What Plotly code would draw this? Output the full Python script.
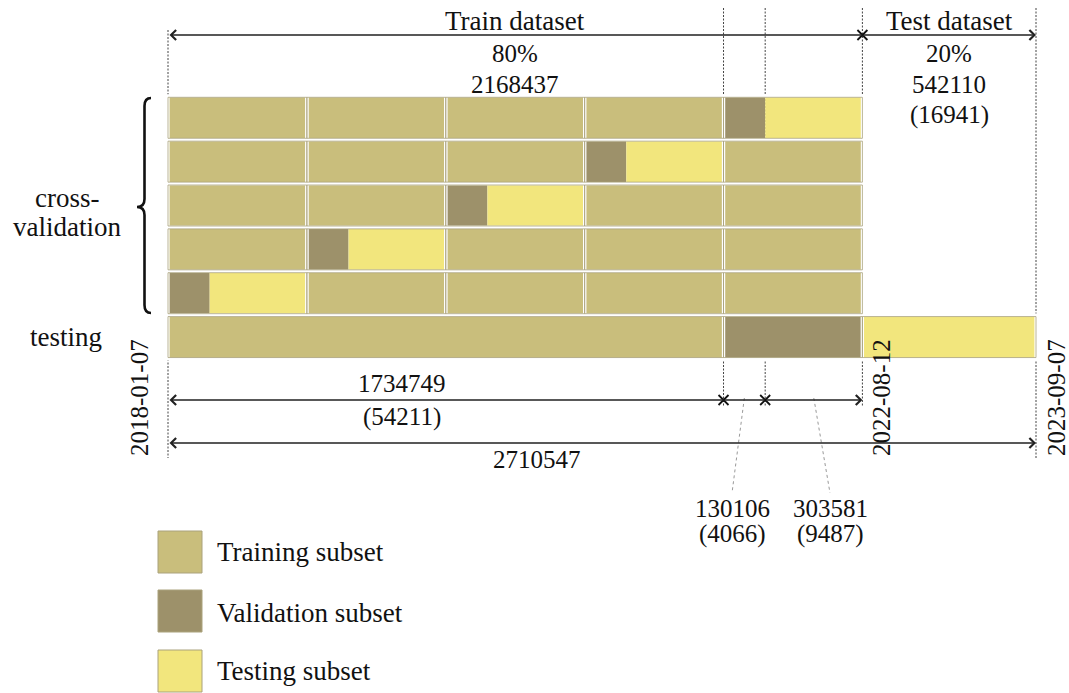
import plotly.graph_objects as go

# ---------------- data ----------------
TOTAL = 2710547          # all records
TRAIN_TOTAL = 2168437    # train dataset (80%)
TEST_TOTAL = 542110      # test dataset (20%)
CV_TRAIN = 1734749       # part used only for training in final testing
VAL_SIZE = 130106        # validation part of a fold
TEST_FOLD_SIZE = 303581  # testing part of a fold
N_FOLDS = 5

train_share = "80%"
test_share = "20%"
test_days = "(16941)"
cv_train_days = "(54211)"
val_days = "(4066)"
testfold_days = "(9487)"
dates = ["2018-01-07", "2022-08-12", "2023-09-07"]
row_group_labels = ["cross-", "validation", "testing"]
legend_labels = ["Training subset", "Validation subset", "Testing subset"]

C_TRAIN = "#c9be7c"
C_VAL = "#9d916a"
C_TEST = "#f2e67d"
C_EDGE = "#aaa27c"
FONT = "Liberation Serif"
FS_NUM = 25
FS_WORD = 27

# ---------------- layout geometry ----------------
W, H = 1069, 693
X0_PX, X1_PX = 168, 1036
UNIT = TOTAL / (X1_PX - X0_PX)          # records per pixel
ROW0_PX, ROW_STEP = 117.8, 43.85


def px(v):
    return X0_PX + v / UNIT


fold = VAL_SIZE + TEST_FOLD_SIZE
edges = [k * fold for k in range(N_FOLDS - 1)] + [CV_TRAIN, TRAIN_TOTAL]

segs = {"train": [], "val": [], "test": []}
cells = []
for r in range(N_FOLDS):
    special = N_FOLDS - 1 - r
    for f in range(N_FOLDS):
        s, e = edges[f], edges[f + 1]
        cells.append((r, s, e))
        if f == special:
            segs["val"].append((r, s, s + VAL_SIZE))
            segs["test"].append((r, s + VAL_SIZE, e))
        else:
            segs["train"].append((r, s, e))
r = N_FOLDS
segs["train"].append((r, 0, CV_TRAIN))
segs["val"].append((r, CV_TRAIN, TRAIN_TOTAL))
segs["test"].append((r, TRAIN_TOTAL, TOTAL))
cells += [(r, 0, CV_TRAIN), (r, CV_TRAIN, TRAIN_TOTAL), (r, TRAIN_TOTAL, TOTAL)]

fig = go.Figure()
for key, col in (("train", C_TRAIN), ("val", C_VAL), ("test", C_TEST)):
    lst = segs[key]
    fig.add_trace(go.Bar(
        orientation="h",
        y=[a[0] for a in lst],
        base=[a[1] for a in lst],
        x=[a[2] - a[1] for a in lst],
        width=1.0,
        marker=dict(color=col, line=dict(width=0)),
        showlegend=False, hoverinfo="skip",
    ))
# cell outlines (white gaps + thin border)
fig.add_trace(go.Bar(
    orientation="h",
    y=[c[0] for c in cells], base=[c[1] for c in cells],
    x=[c[2] - c[1] for c in cells], width=1.0,
    marker=dict(color="rgba(0,0,0,0)", line=dict(color="white", width=3.2)),
    showlegend=False, hoverinfo="skip",
))
fig.add_trace(go.Bar(
    orientation="h",
    y=[c[0] for c in cells], base=[c[1] for c in cells],
    x=[c[2] - c[1] for c in cells], width=0.935,
    marker=dict(color="rgba(0,0,0,0)", line=dict(color=C_EDGE, width=0.8)),
    showlegend=False, hoverinfo="skip",
))

# x marks on dimension lines
fig.add_trace(go.Scatter(
    x=[TRAIN_TOTAL, CV_TRAIN, CV_TRAIN + VAL_SIZE], y=[35, 400, 400],
    xaxis="x", yaxis="y2", mode="markers",
    marker=dict(symbol="x-thin", size=10, line=dict(width=1.8, color="#111")),
    showlegend=False, hoverinfo="skip",
))

shapes = []
# dotted vertical guide lines
for v, y0, y1 in ((0, 30, 458), (CV_TRAIN, 8, 407), (CV_TRAIN + VAL_SIZE, 8, 407),
                  (TRAIN_TOTAL, 8, 407), (TOTAL, 8, 458)):
    shapes.append(dict(type="line", xref="x", yref="y2", x0=v, x1=v, y0=y0, y1=y1,
                       line=dict(color="#444", width=1, dash="2px,1.5px"), layer="below"))
# leader lines to small labels
for mid, xb in ((CV_TRAIN + VAL_SIZE / 2, 732), (CV_TRAIN + VAL_SIZE + TEST_FOLD_SIZE / 2, 830)):
    shapes.append(dict(type="line", xref="x2", yref="y2", x0=px(mid), y0=398, x1=xb, y1=493,
                       line=dict(color="#999", width=1, dash="dot")))
# brace
shapes.append(dict(type="path", xref="x2", yref="y2",
                   path="M 151,98 Q 144.5,98 144.5,106 L 144.5,199 Q 144.5,207 137,207 "
                        "Q 144.5,207 144.5,215 L 144.5,305 Q 144.5,313 151,313",
                   line=dict(color="#111", width=2.6)))
# legend swatches
for (y0, y1), col in zip(((531, 573), (590, 632), (650, 692)), (C_TRAIN, C_VAL, C_TEST)):
    shapes.append(dict(type="rect", xref="x2", yref="y2", x0=158, x1=202, y0=y0, y1=y1,
                       fillcolor=col, line=dict(color=C_EDGE, width=1)))

ann = []


def arrow(x_from, x_to, y, side):
    d = dict(x=x_to, y=y, ax=x_from, ay=y, xref="x", yref="y2", axref="x", ayref="y2",
             text="", showarrow=True, arrowcolor="#222", arrowwidth=1.3,
             standoff=0, startstandoff=0, arrowside=side)
    if "start" in side:
        d.update(startarrowhead=4, startarrowsize=1.5)
    if "end" in side:
        d.update(arrowhead=4, arrowsize=1.5)
    ann.append(d)


arrow(0, TRAIN_TOTAL, 35, "start")
arrow(TRAIN_TOTAL, TOTAL, 35, "end")
arrow(0, CV_TRAIN, 400, "start")
arrow(CV_TRAIN, CV_TRAIN + VAL_SIZE, 400, "none")
arrow(CV_TRAIN + VAL_SIZE, TRAIN_TOTAL, 400, "end")
arrow(0, TOTAL, 443, "end+start")


def txt(t, x, y, size, anchor="center", angle=0):
    ann.append(dict(text=t, x=x, y=y, xref="x2", yref="y2", showarrow=False,
                    xanchor=anchor, yanchor="middle", textangle=angle,
                    font=dict(family=FONT, size=size, color="#111")))


txt("Train dataset", px(TRAIN_TOTAL / 2), 21, FS_WORD)
txt(train_share, px(TRAIN_TOTAL / 2), 53, FS_NUM)
txt(str(TRAIN_TOTAL), px(TRAIN_TOTAL / 2), 84, FS_NUM)
txt("Test dataset", px(TRAIN_TOTAL + TEST_TOTAL / 2), 21, FS_WORD)
txt(test_share, px(TRAIN_TOTAL + TEST_TOTAL / 2), 53, FS_NUM)
txt(str(TEST_TOTAL), px(TRAIN_TOTAL + TEST_TOTAL / 2), 84, FS_NUM)
txt(test_days, px(TRAIN_TOTAL + TEST_TOTAL / 2), 115, FS_NUM)
txt(row_group_labels[0], 67, 198, FS_WORD)
txt(row_group_labels[1], 67, 227, FS_WORD)
txt(row_group_labels[2], 66, 337, FS_WORD)
txt(str(CV_TRAIN), 402, 383, FS_NUM)
txt(cv_train_days, 402, 417, FS_NUM)
txt(str(TOTAL), 537, 459, FS_NUM)
txt(str(VAL_SIZE), 732, 508, FS_NUM)
txt(val_days, 732, 534, FS_NUM)
txt(str(TEST_FOLD_SIZE), 830, 508, FS_NUM)
txt(testfold_days, 830, 534, FS_NUM)
txt(dates[0], 139, 398, FS_NUM, angle=-90)
txt(dates[1], 881, 398, FS_NUM, angle=-90)
txt(dates[2], 1056, 398, FS_NUM, angle=-90)
for lab, yy in zip(legend_labels, (552, 613, 671)):
    txt(lab, 215, yy, FS_WORD, anchor="left")

fig.update_layout(
    width=W, height=H, autosize=False,
    margin=dict(l=0, r=0, t=0, b=0),
    paper_bgcolor="white", plot_bgcolor="white",
    barmode="overlay", showlegend=False,
    xaxis=dict(range=[-X0_PX * UNIT, (W - X0_PX) * UNIT], visible=False, fixedrange=True),
    yaxis=dict(range=[(H - ROW0_PX) / ROW_STEP, -ROW0_PX / ROW_STEP], visible=False, fixedrange=True),
    xaxis2=dict(range=[0, W], overlaying="x", visible=False, fixedrange=True),
    yaxis2=dict(range=[H, 0], overlaying="y", visible=False, fixedrange=True),
    shapes=shapes, annotations=ann,
)
fig.write_html("out.html", config={"displayModeBar": False},
               post_script="document.body.style.margin='0px';document.body.style.overflow='hidden';")
